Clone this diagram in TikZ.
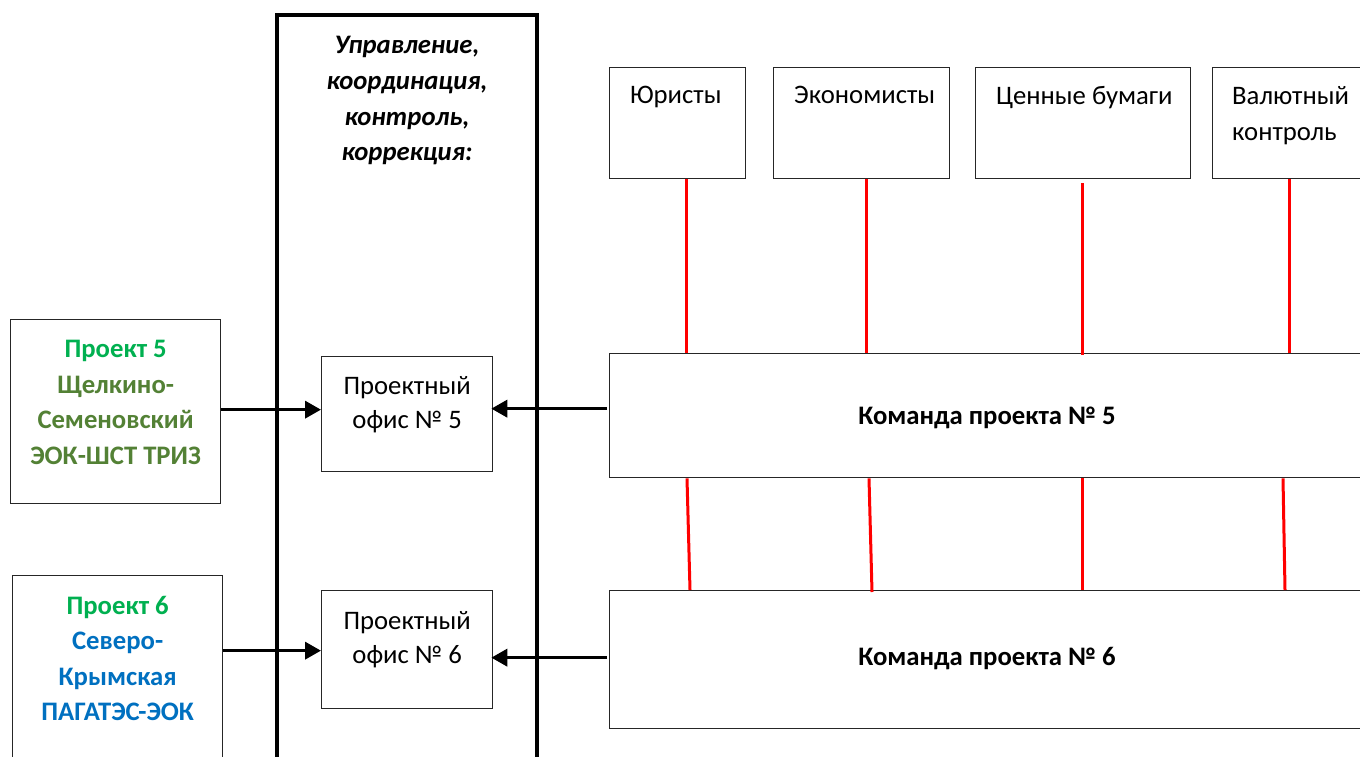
\documentclass[tikz,border=0pt]{standalone}
\usepackage{fontspec}
\setmainfont{Carlito}
\usetikzlibrary{arrows.meta,calc}
\definecolor{pgreen}{HTML}{00B050}
\definecolor{olive}{HTML}{538135}
\definecolor{pblue}{HTML}{0070C0}
\tikzset{
  box/.style={draw=black!85, line width=1.3pt, fill=white, anchor=north west, inner sep=0pt},
  txt/.style={font=\fontsize{26.7}{34.5}\selectfont, align=center, inner sep=0pt},
  ltxt/.style={font=\fontsize{26.7}{36}\selectfont, align=left, inner sep=0pt, anchor=north west},
  btxt/.style={font=\fontsize{26.7}{35.5}\selectfont\bfseries, align=center, inner sep=0pt},
  arr/.style={line width=3.5pt, -{Triangle[length=16pt,width=17pt]}},
  redl/.style={draw=red, line width=3pt},
}
\begin{document}
\begin{tikzpicture}[x=1pt,y=-1pt]
\useasboundingbox (0,0) rectangle (1360,756);
\clip (0,0) rectangle (1360,756);
\fill[white] (0,0) rectangle (1360,756);
% big frame
\draw[line width=3.5pt] (277,15) rectangle (537,780);
\node[btxt, font=\fontsize{26.7}{35.8}\selectfont\bfseries\itshape, anchor=north] (head) at (407,36)
  {Управление,\\координация,\\контроль,\\коррекция:};
% top boxes
\node[box, minimum width=136pt, minimum height=111pt] (jur) at (609,67) {};
\node[box, minimum width=176pt, minimum height=111pt] (eco) at (773,67) {};
\node[box, minimum width=215pt, minimum height=111pt] (cen) at (975,67) {};
\node[box, minimum width=160pt, minimum height=111pt] (val) at (1212,67) {};
\node[ltxt] (jurt) at ([xshift=21pt,yshift=-19pt]jur.north west) {Юристы};
\node[ltxt] (ecot) at ([xshift=21pt,yshift=-19pt]eco.north west) {Экономисты};
\node[ltxt] (cent) at ([xshift=21pt,yshift=-19pt]cen.north west) {Ценные бумаги};
\node[ltxt] (valt) at ([xshift=20pt,yshift=-19pt]val.north west) {Валютный\\контроль};
% team boxes
\node[box, minimum width=760pt, minimum height=124pt] (t5) at (609,353) {};
\node[box, minimum width=760pt, minimum height=138pt] (t6) at (609,590) {};
\node[btxt] (t5t) at (987,418) {Команда проекта № 5};
\node[btxt] (t6t) at (987,659) {Команда проекта № 6};
% offices
\node[box, minimum width=171pt, minimum height=115pt] (o5) at (321,356) {};
\node[box, minimum width=171pt, minimum height=118pt] (o6) at (321,590) {};
\node[txt, anchor=north] (o5t) at ([yshift=-20pt]o5.north) {Проектный\\офис № 5};
\node[txt, anchor=north] (o6t) at ([yshift=-21pt]o6.north) {Проектный\\офис № 6};
% projects
\node[box, minimum width=210pt, minimum height=184pt] (p5) at (10,319) {};
\node[box, minimum width=210pt, minimum height=200pt] (p6) at (12,575) {};
\node[btxt, anchor=north] (p5t) at ([yshift=-21pt]p5.north)
  {\textcolor{pgreen}{Проект 5}\\\textcolor{olive}{Щелкино-}\\\textcolor{olive}{Семеновский}\\\textcolor{olive}{ЭОК-ШСТ ТРИЗ}};
\node[btxt, anchor=north] (p6t) at ([yshift=-21pt]p6.north)
  {\textcolor{pgreen}{Проект 6}\\\textcolor{pblue}{Северо-}\\\textcolor{pblue}{Крымская}\\\textcolor{pblue}{ПАГАТЭС-ЭОК}};
% arrows
\draw[arr] ([yshift=2pt]p5.east) -- ([yshift=2pt]p5.east -| o5.west);
\draw[arr] ([yshift=25pt]p6.east) -- ([yshift=25pt]p6.east -| o6.west);
\draw[arr] ([yshift=7pt,xshift=-2pt]t5.west) -- ([yshift=7pt,xshift=-2pt]t5.west -| o5.east);
\draw[arr] ([yshift=2pt,xshift=-2pt]t6.west) -- ([yshift=2pt,xshift=-2pt]t6.west -| o6.east);
% red lines top
\draw[redl] ([xshift=9pt]jur.south) -- ([xshift=9pt]jur.south |- t5.north);
\draw[redl] ([xshift=5pt]eco.south) -- ([xshift=5pt]eco.south |- t5.north);
\draw[redl] ([xshift=-1pt,yshift=-4pt]cen.south) -- ([xshift=-1pt,yshift=-2pt]cen.south |- t5.north);
\draw[redl] ([xshift=-3pt]val.south) -- ([xshift=-3pt]val.south |- t5.north);
% red lines between teams
\draw[redl] ([xshift=78pt]t5.south west) -- ([xshift=81pt]t6.north west);
\draw[redl] ([xshift=260pt]t5.south west) -- ([xshift=263pt,yshift=-2pt]t6.north west);
\draw[redl] ([xshift=473pt]t5.south west) -- ([xshift=473pt]t6.north west);
\draw[redl] ([xshift=674pt]t5.south west) -- ([xshift=676pt]t6.north west);
\end{tikzpicture}
\end{document}
